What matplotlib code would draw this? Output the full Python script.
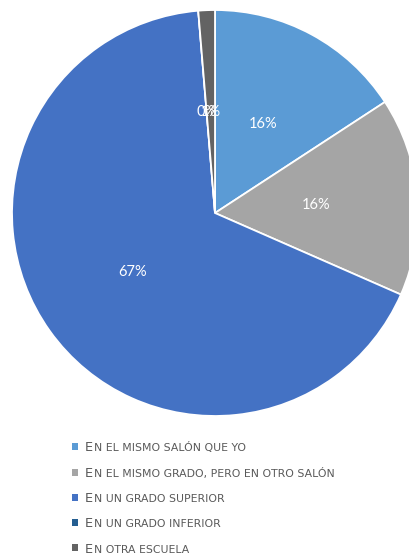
import matplotlib.pyplot as plt

# answers (counts, shown as rounded percentages)
labels = ["En el mismo salón que yo",
          "En el mismo grado, pero en otro salón",
          "En un grado superior",
          "En un grado inferior",
          "En otra escuela"]
counts = [12, 12, 51, 0, 1]
colors = ["#5B9BD5", "#A5A5A5", "#4472C4", "#255E91", "#636363"]

plt.rcParams['font.family'] = ['Lato', 'DejaVu Sans']

W, H = 409, 556
fig = plt.figure(figsize=(W / 100, H / 100), dpi=100)

# pie centre (215, 213) px, radius 203 px
cx, cy, r = 215, 213, 203
ax = fig.add_axes([(cx - r) / W, (H - cy - r) / H, 2 * r / W, 2 * r / H])
wedges, _, autotexts = ax.pie(counts, colors=colors, startangle=90, counterclock=False,
                              autopct=lambda p: "%.0f%%" % p, pctdistance=0.5,
                              wedgeprops=dict(edgecolor="white", linewidth=1.3))
for t in autotexts:
    t.set_color("white")
    t.set_fontsize(10.5)
ax.set_xlim(-1, 1)
ax.set_ylim(-1, 1)
ax.set_aspect("auto")

# legend in small caps: big first letter, rest drawn smaller right after it
leg = fig.legend(wedges, [s[0].upper() for s in labels], loc="upper left",
                 bbox_to_anchor=(66 / W, 1 - 435 / H), frameon=False,
                 prop=dict(family="DejaVu Sans", size=9.3),
                 handlelength=0.45, handleheight=0.45,
                 handletextpad=0.5, labelspacing=0.95, borderpad=0)
for h in leg.legend_handles:
    h.set_edgecolor("none")

fig.canvas.draw()
for t, s in zip(leg.get_texts(), labels):
    t.set_color("#595959")
    bb = t.get_window_extent()
    x0, base = t.get_transform().transform(t.get_position())
    fig.text((bb.x1 + 1.0) / W, base / H, s[1:].upper(), ha="left", va="baseline",
             family="DejaVu Sans", fontsize=7.8, color="#595959")

fig.savefig("out.png", dpi=100)
